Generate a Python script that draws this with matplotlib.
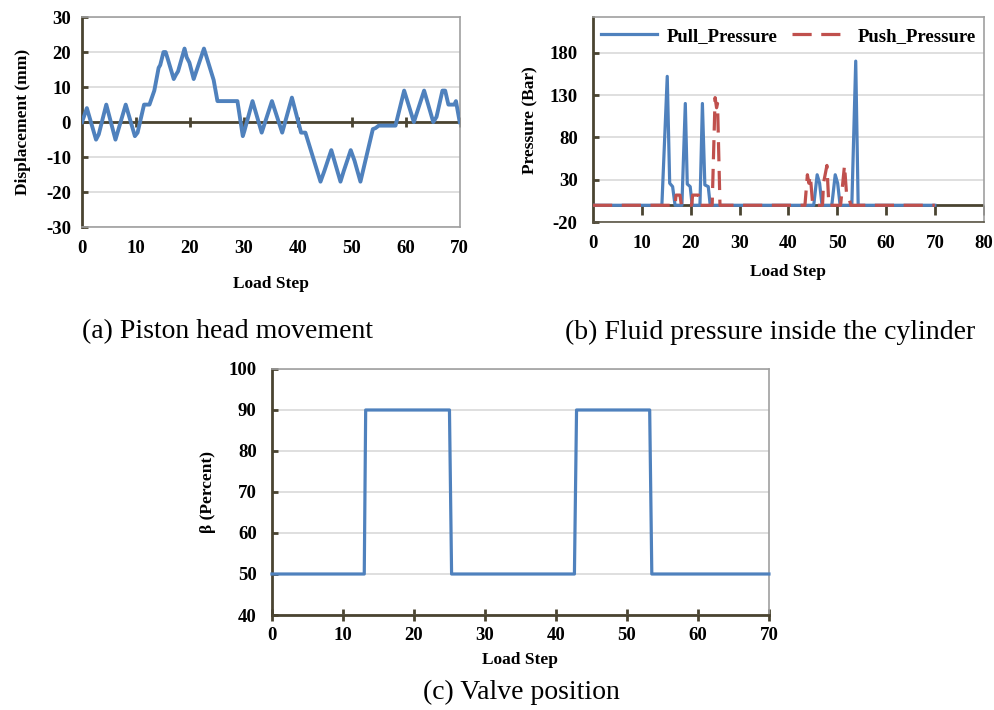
import matplotlib.pyplot as plt

# (a) piston head displacement (mm) vs load step
disp_x = [0, 0.9, 2.6, 3.1, 4.5, 6.2, 8.1, 9.8, 10.3, 11.5, 12.5, 13.4, 14.2, 14.5, 15.1,
          15.5, 15.9, 17.0, 17.4, 17.8, 19.0, 19.4, 19.9, 20.7, 22.6, 24.4, 25.1, 28.8, 29.8, 30.1,
          31.6, 33.3, 35.2, 37.1, 38.9, 40.6, 41.4, 44.2, 44.9, 46.2, 47.9, 48.5, 49.8, 50.5, 51.6,
          53.9, 54.4, 55.0, 58.1, 59.7, 61.5, 63.4, 65.1, 65.7, 66.8, 67.3, 67.9, 69.0, 69.3, 70.0]
disp_y = [0, 4, -5, -3.5, 5, -5, 5, -4, -3, 5, 5, 9, 15.5, 16.3, 20,
          20, 18, 12.3, 13.5, 14.5, 21, 18.5, 17, 12.3, 21, 12, 6, 6, -4, -2.5,
          6, -3, 6, -3, 7, -3, -3, -17, -14, -8, -17, -14, -8, -11, -17,
          -2, -1.7, -1, -1, 9, 0, 9, 0, 1.5, 9, 9, 5, 5, 6, 0]

# (b) fluid pressure (Bar)
pull_x = [0, 14.1, 15.2, 15.7, 16.3, 16.8, 18.2, 18.9, 19.3, 19.9, 20.3, 21.9, 22.4, 22.9,
          23.6, 24.0, 45.2, 45.9, 46.4, 46.9, 48.9, 49.6, 50.1, 50.6, 53.0, 53.8, 54.3, 70]
pull_y = [0, 0, 152, 26, 22, 0, 0, 120, 25, 22, 0, 0, 120, 24,
          22, 0, 0, 36, 26, 0, 0, 36, 26, 0, 0, 170, 0, 0]
push_x = [0, 16.8, 17.0, 17.8, 18.1, 20.2, 20.4, 21.6, 21.9, 24.4, 25.0, 25.3, 25.5, 26.0, 43.4,
          43.9, 44.2, 44.5, 45.0, 47.0, 47.2, 47.9, 48.3, 50.7, 50.9, 51.5, 51.9, 52.4, 52.8, 70]
push_y = [0, 0, 12, 12, 0, 0, 12, 12, 0, 0, 127, 115, 120, 0, 0,
          36, 26, 35, 0, 0, 26, 47, 0, 0, 12, 47, 15, 9, 0, 0]

# (c) valve position beta (%)
valve_x = [0, 13.0, 13.2, 25.0, 25.3, 42.6, 42.9, 53.2, 53.5, 70]
valve_y = [50, 50, 90, 90, 50, 50, 90, 90, 50, 50]

BLUE = '#4f81bd'
RED = '#c0504d'
OLIVE = '#4a4431'
GRID = '#d9d9d9'
BORDER = '#a0a0a0'

plt.rcParams['font.family'] = ['Liberation Serif', 'DejaVu Serif']
plt.rcParams['font.weight'] = 'bold'
plt.rcParams['axes.unicode_minus'] = False
TICK_FS = 13.5
LAB_FS = 12.5


def style_axes(ax, yticks, ylim, xlim, xticks, ypad):
    ax.set_xlim(*xlim)
    ax.set_ylim(*ylim)
    ax.set_yticks(yticks)
    ax.set_xticks(xticks)
    ax.yaxis.grid(True, color=GRID, lw=1.2)
    ax.set_axisbelow(True)
    ax.spines['left'].set_color(OLIVE)
    ax.spines['left'].set_linewidth(2)
    for s in ('top', 'right', 'bottom'):
        ax.spines[s].set_color(BORDER)
        ax.spines[s].set_linewidth(1.2)
    ax.tick_params(axis='y', direction='in', length=4, width=2, color=OLIVE,
                   labelsize=TICK_FS, pad=ypad)
    ax.tick_params(axis='x', length=0, labelsize=TICK_FS, pad=9)
    for lab in ax.get_xticklabels() + ax.get_yticklabels():
        lab.set_fontweight('bold')


def zero_axis(ax, ticks, xmax, marker):
    # category axis crossing at y = 0
    ax.plot([0, xmax], [0, 0], color=OLIVE, lw=2, zorder=2)
    ax.plot(ticks, [0] * len(ticks), ls='none', marker=marker, ms=7, mew=2,
            color=OLIVE, zorder=2)


fig = plt.figure(figsize=(9.94, 7.10), dpi=100)

# ---- (a)
ax1 = fig.add_axes([0.0825, 0.680, 0.380, 0.296])
style_axes(ax1, range(-30, 31, 10), (-30, 30), (0, 70), range(0, 71, 10), 8)
zero_axis(ax1, list(range(10, 71, 10)), 70, '|')
ax1.plot(disp_x, disp_y, color=BLUE, lw=2.8, zorder=3)
ax1.set_ylabel('Displacement (mm)', fontsize=LAB_FS, fontweight='bold', labelpad=11)
ax1.set_xlabel('Load Step', fontsize=LAB_FS, fontweight='bold', labelpad=14)

# ---- (b)
ax2 = fig.add_axes([0.5966, 0.687, 0.393, 0.289])
style_axes(ax2, [-20, 30, 80, 130, 180], (-20, 222), (0, 80), range(0, 81, 10), 11)
ax2.spines['bottom'].set_color('#5a5545')
zero_axis(ax2, list(range(10, 81, 10)), 80, 3)
ax2.plot(pull_x, pull_y, color=BLUE, lw=2.3, zorder=3, label='Pull_Pressure')
ax2.plot(push_x, push_y, color=RED, lw=2.3, dashes=(6, 3), zorder=4, label='Push_Pressure')
ax2.set_ylabel('Pressure (Bar)', fontsize=LAB_FS, fontweight='bold', labelpad=8)
ax2.set_xlabel('Load Step', fontsize=LAB_FS, fontweight='bold', labelpad=9)
ax2.legend(loc='upper center', bbox_to_anchor=(0.5, 1.03), ncol=2, frameon=False,
           handlelength=3.0, columnspacing=0.8, handletextpad=0.5,
           prop={'family': 'Liberation Serif', 'weight': 'bold', 'size': 13.5})

# ---- (c)
ax3 = fig.add_axes([0.2736, 0.1338, 0.500, 0.3465])
style_axes(ax3, range(40, 101, 10), (40, 100), (0, 70), range(0, 71, 10), 11)
ax3.spines['bottom'].set_color(OLIVE)
ax3.spines['bottom'].set_linewidth(2)
ax3.tick_params(axis='x', direction='inout', length=9, width=2, color=OLIVE, pad=4)
ax3.plot(valve_x, valve_y, color=BLUE, lw=2.3, zorder=3, clip_on=False)
ax3.set_ylabel('\u03b2 (Percent)', fontsize=LAB_FS, fontweight='bold', labelpad=9)
ax3.set_xlabel('Load Step', fontsize=LAB_FS, fontweight='bold', labelpad=6)

# captions
cap = dict(fontsize=20, fontweight='normal', ha='center', va='center')
fig.text(227 / 994, 1 - 332 / 710, '(a) Piston head movement', **cap)
fig.text(770 / 994, 1 - 332 / 710, '(b) Fluid pressure inside the cylinder', **cap)
fig.text(521 / 994, 1 - 692 / 710, '(c) Valve position', **cap)

fig.savefig('out.png', dpi=100)
